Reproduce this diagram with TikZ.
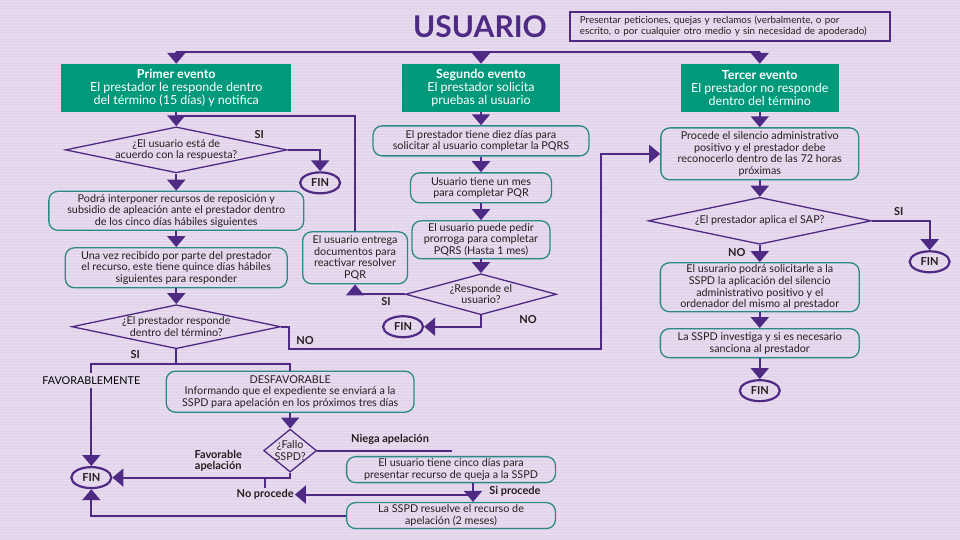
\documentclass[tikz,border=0pt]{standalone}
\usepackage{fontspec}
\setmainfont{Lato}
\usetikzlibrary{arrows.meta, positioning, calc, shapes.geometric}
\definecolor{lilac}{HTML}{E2D4EA}
\definecolor{lilacline}{HTML}{E9DEEF}
\definecolor{ink}{HTML}{231F20}
\definecolor{grape}{HTML}{4E2A84}
\definecolor{evgreen}{HTML}{00997B}
\definecolor{stepline}{HTML}{2B8A87}
\tikzset{
  font=\fontsize{10.8}{11.6}\selectfont,
  >={Triangle[width=18pt, length=11pt]},
  %
  event/.style={fill=evgreen, text=white, align=center, inner sep=0pt,
    font=\fontsize{12.5}{12.8}\selectfont},
  stepbox/.style={draw=stepline, line width=1.3pt, rounded corners=9pt,
    text=ink, align=center, inner sep=0pt},
  query/.style={diamond, draw=grape, line width=1.3pt, inner sep=0pt},
  qtext/.style={text=ink, align=center, inner sep=0pt},
  fin/.style={ellipse, draw=grape, line width=2.2pt, minimum width=40pt,
    minimum height=21pt, inner sep=0pt, text=ink,
    font=\bfseries\fontsize{11}{12}\selectfont},
  %
  flow/.style={draw=grape, line width=2pt, ->},
  wire/.style={draw=grape, line width=2pt},
  lbl/.style={font=\bfseries\fontsize{11}{11.5}\selectfont, text=ink,
    inner sep=1pt, align=center},
}

\begin{document}
\begin{tikzpicture}[x=1pt, y=-1pt]

  % paper
  \fill[lilac] (0,0) rectangle (960,540);
  \foreach \y in {1,4,...,540}
    \draw[lilacline, line width=0.8pt] (0,\y) -- (960,\y);
  \useasboundingbox (0,0) rectangle (960,540);

  \node[text=grape, font=\bfseries\fontsize{30}{30}\selectfont] (usuario) at (480,27) {USUARIO};
  \node[draw=grape, line width=1.8pt, text=ink, align=left, inner xsep=10pt,
        inner ysep=0pt, text width=300pt, minimum height=29pt,
        font=\fontsize{9.8}{11}\selectfont] (nota) at (730,26.5)
    {Presentar peticiones, quejas y reclamos (verbalmente, o por\\escrito, o por cualquier otro medio y sin necesidad de apoderado)};

  \coordinate (forkl) at (176,52);
  \coordinate (forkr) at (760,52);

  \node[event, minimum width=230pt, minimum height=48pt] (primer) at (176,88)
    {\textbf{Primer evento}\\El prestador le responde dentro\\del término (15 días) y notifica};
  \node[event, minimum width=158pt, minimum height=48pt] (segundo) at (481,88)
    {\textbf{Segundo evento}\\El prestador solicita\\pruebas al usuario};
  \node[event, minimum width=158pt, minimum height=48pt] (tercer) at (760,88)
    {\textbf{Tercer evento}\\El prestador no responde\\dentro del término};

  \draw[wire] (forkl) -- (forkr);
  \draw[flow] (forkl) -- (primer.north);
  \draw[flow] (segundo.north |- forkl) -- (segundo.north);
  \draw[flow] (forkr) -- (tercer.north);

  % primer evento
  \node[query, minimum width=222pt, minimum height=46pt,
        label={[qtext]center:{¿El usuario está de\\acuerdo con la respuesta?}}] (d1) at (176,150) {};
  \node[fin] (fin1) at (320,183) {FIN};
  \node[stepbox, minimum width=255pt, minimum height=39pt] (recurso) at (176,211)
    {Podrá interponer recursos de reposición y\\subsidio de apleación ante el prestador dentro\\de los cinco días hábiles siguientes};
  \node[stepbox, minimum width=222pt, minimum height=40pt] (recibido) at (176,268)
    {Una vez recibido por parte del prestador\\el recurso, este tiene quince días hábiles\\siguientes para responder};
  \node[query, minimum width=209pt, minimum height=44pt,
        label={[qtext]center:{¿El prestador responde\\dentro del término?}}] (d2) at (176,327) {};

  \coordinate (rejoin) at (176,116);
  \draw[flow] (primer.south) -- (d1.north);
  \draw[flow] (d1.east) -| (fin1.north);
  \node[lbl] at (259,135) {SI};
  \draw[flow] (d1.south) -- (recurso.north);
  \draw[flow] (recurso.south) -- (recibido.north);
  \draw[flow] (recibido.south) -- (d2.north);

  \node (favlbl) at (91,381) {FAVORABLEMENTE};
  \node[stepbox, minimum width=248pt, minimum height=41pt] (desfav) at (290,392)
    {DESFAVORABLE\\Informando que el expediente se enviará a la\\SSPD para apelación en los próximos tres días};
  \node[fin] (fin2) at (91,478) {FIN};
  \node[query, minimum width=53pt, minimum height=43pt,
        label={[qtext]center:{¿Fallo\\SSPD?}}] (fallo) at (290,451) {};

  \coordinate (sifork) at (176,364);
  \draw[wire] (d2.south) -- (sifork);
  \draw[wire] (favlbl.north) |- (sifork) -| (desfav.north);
  \node[lbl] at (135,355) {SI};
  \draw[flow] (favlbl.south) -- (fin2.north);
  \draw[flow] (desfav.south) -- (fallo.north);
  \draw[flow] (fallo.south) |- (fin2.east);
  \node[lbl] at (218,461) {Favorable\\apelación};

  \coordinate (niegaend) at (452,451);
  \draw[wire] (fallo.east) -- (niegaend);
  \node[lbl] at (390,440) {Niega apelación};

  \node[stepbox, minimum width=209pt, minimum height=26pt] (queja) at (451,470)
    {El usuario tiene cinco días para\\presentar recurso de queja a la SSPD};
  \node[stepbox, minimum width=209pt, minimum height=26pt] (resuelve) at (451,516)
    {La SSPD resuelve el recurso de\\apelación (2 meses)};
  \node[lbl] (noproc) at (265,495) {No procede};

  \coordinate (qsplit) at (473,495);
  \draw[flow] (queja.south -| qsplit) -- (resuelve.north -| qsplit);
  \draw[flow] (qsplit) -- (noproc.east);
  \draw[wire] (noproc.north) -- (noproc.north |- fin2.east);
  \node[lbl] at (515,492) {Si procede};
  \draw[flow] (resuelve.west) -| (fin2.south);

  % segundo evento
  \node[stepbox, minimum width=216pt, minimum height=30pt] (diez) at (481,141)
    {El prestador tiene diez días para\\solicitar al usuario completar la PQRS};
  \node[stepbox, minimum width=141pt, minimum height=30pt] (mes) at (481,188)
    {Usuario tiene un mes\\para completar PQR};
  \node[stepbox, minimum width=138pt, minimum height=38pt] (prorroga) at (481,240)
    {El usuario puede pedir\\prorroga para completar\\PQRS (Hasta 1 mes)};
  \node[query, minimum width=151pt, minimum height=41pt,
        label={[qtext]center:{¿Responde el\\usuario?}}] (d3) at (481,294.5) {};
  \node[stepbox, minimum width=105pt, minimum height=52pt] (entrega) at (355,258)
    {El usuario entrega\\documentos para\\reactivar resolver\\PQR};
  \node[fin] (fin3) at (403,327) {FIN};

  \draw[flow] (segundo.south) -- (diez.north);
  \draw[flow] (diez.south) -- (mes.north);
  \draw[flow] (mes.south) -- (prorroga.north);
  \draw[flow] (prorroga.south) -- (d3.north);
  \draw[flow] (d3.west) -| (entrega.south);
  \node[lbl] at (386,302) {SI};
  \draw[flow] (d3.south) |- (fin3.east);
  \node[lbl] at (528,320) {NO};
  \draw[wire] (entrega.north) |- (rejoin);

  % tercer evento
  \node[stepbox, minimum width=198pt, minimum height=52pt] (procede) at (760,154)
    {Procede el silencio administrativo\\positivo y el prestador debe\\reconocerlo dentro de las 72 horas\\próximas};
  \node[query, minimum width=223pt, minimum height=47pt,
        label={[qtext]center:{¿El prestador aplica el SAP?}}] (d4) at (760,221) {};
  \node[fin] (fin4) at (930,262) {FIN};
  \node[stepbox, minimum width=199pt, minimum height=49pt] (solicita) at (760,287.5)
    {El usurario podrá solicitarle a la\\SSPD la aplicación del silencio\\administrativo positivo y el\\ordenador del mismo al prestador};
  \node[stepbox, minimum width=199pt, minimum height=29pt] (sanciona) at (760,343.5)
    {La SSPD investiga y si es necesario\\sanciona al prestador};
  \node[fin] (fin5) at (760,391) {FIN};

  \draw[flow] (tercer.south) -- (procede.north);
  \draw[flow] (procede.south) -- (d4.north);
  \draw[flow] (d4.east) -| (fin4.north);
  \node[lbl] at (899,212) {SI};
  \draw[flow] (d4.south) -- (solicita.north);
  \node[lbl] at (737,253) {NO};
  \draw[flow] (solicita.south) -- (sanciona.north);
  \draw[flow] (sanciona.south) -- (fin5.north);

  % NO of d2 goes over to the third event
  \coordinate (nobend) at (289,349);
  \coordinate (nobend2) at (601,349);
  \draw[flow] (d2.east) -| (nobend) -- (nobend2) |- (procede.west);
  \node[lbl] at (305,341) {NO};

\end{tikzpicture}
\end{document}
